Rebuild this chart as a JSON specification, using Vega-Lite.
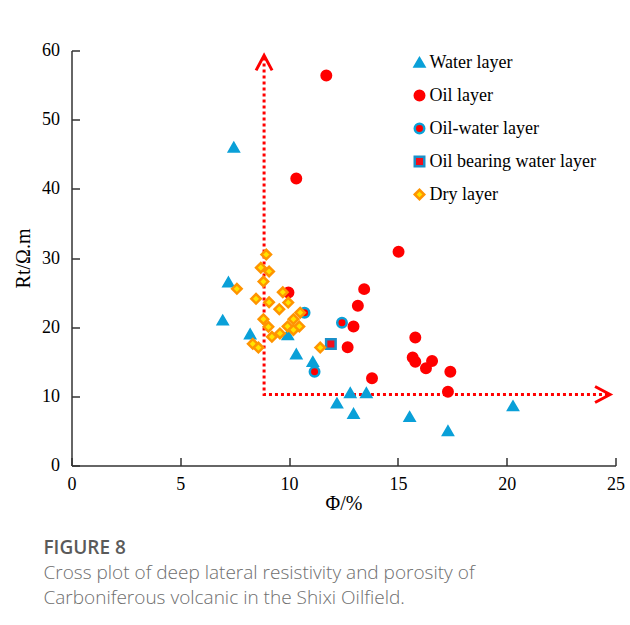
{
  "$schema": "https://vega.github.io/schema/vega-lite/v6.json",
  "width": 544,
  "height": 415,
  "autosize": {"type": "none"},
  "padding": {"left": 71.5, "top": 50.5, "right": 14, "bottom": 159.5},
  "background": "white",
  "title": {
    "text": "FIGURE 8",
    "subtitle": [
      "Cross plot of deep lateral resistivity and porosity of",
      "Carboniferous volcanic in the Shixi Oilfield."
    ],
    "orient": "bottom",
    "anchor": "start",
    "frame": "group",
    "dx": -28,
    "offset": 25,
    "font": "Open Sans",
    "fontSize": 19,
    "fontWeight": 600,
    "color": "#5a5a5a",
    "subtitleFont": "Open Sans",
    "subtitleFontSize": 19,
    "subtitleFontWeight": 300,
    "subtitleColor": "#6e6e6e",
    "subtitleLineHeight": 25,
    "subtitlePadding": 6
  },
  "datasets": {
    "samples": [
      {"layer": "Water layer", "phi": 7.46, "rt": 46.0},
      {"layer": "Water layer", "phi": 7.21, "rt": 26.5},
      {"layer": "Water layer", "phi": 6.95, "rt": 21.0},
      {"layer": "Water layer", "phi": 8.21, "rt": 19.0},
      {"layer": "Water layer", "phi": 9.94, "rt": 18.9},
      {"layer": "Water layer", "phi": 10.33, "rt": 16.1},
      {"layer": "Water layer", "phi": 11.09, "rt": 15.0},
      {"layer": "Water layer", "phi": 12.81, "rt": 10.5},
      {"layer": "Water layer", "phi": 13.55, "rt": 10.5},
      {"layer": "Water layer", "phi": 12.2, "rt": 9.0},
      {"layer": "Water layer", "phi": 12.96, "rt": 7.5},
      {"layer": "Water layer", "phi": 15.54, "rt": 7.05},
      {"layer": "Water layer", "phi": 17.3, "rt": 5.0},
      {"layer": "Water layer", "phi": 20.29, "rt": 8.6},
      {"layer": "Oil layer", "phi": 11.71, "rt": 56.4},
      {"layer": "Oil layer", "phi": 10.33, "rt": 41.5},
      {"layer": "Oil layer", "phi": 15.03, "rt": 30.9},
      {"layer": "Oil layer", "phi": 13.45, "rt": 25.5},
      {"layer": "Oil layer", "phi": 13.16, "rt": 23.1},
      {"layer": "Oil layer", "phi": 12.96, "rt": 20.1},
      {"layer": "Oil layer", "phi": 12.69, "rt": 17.1},
      {"layer": "Oil layer", "phi": 13.81, "rt": 12.6},
      {"layer": "Oil layer", "phi": 15.8, "rt": 18.5},
      {"layer": "Oil layer", "phi": 15.68, "rt": 15.6},
      {"layer": "Oil layer", "phi": 15.8, "rt": 15.0},
      {"layer": "Oil layer", "phi": 16.29, "rt": 14.05},
      {"layer": "Oil layer", "phi": 16.57, "rt": 15.1},
      {"layer": "Oil layer", "phi": 17.41, "rt": 13.55},
      {"layer": "Oil layer", "phi": 17.3, "rt": 10.65},
      {"layer": "Oil layer", "phi": 9.97, "rt": 25.0},
      {"layer": "Oil-water layer", "phi": 10.71, "rt": 22.1},
      {"layer": "Oil-water layer", "phi": 12.43, "rt": 20.65},
      {"layer": "Oil-water layer", "phi": 11.17, "rt": 13.55},
      {"layer": "Oil bearing water layer", "phi": 11.92, "rt": 17.55},
      {"layer": "Dry layer", "phi": 8.95, "rt": 30.5},
      {"layer": "Dry layer", "phi": 8.7, "rt": 28.6},
      {"layer": "Dry layer", "phi": 9.08, "rt": 28.05},
      {"layer": "Dry layer", "phi": 8.82, "rt": 26.6},
      {"layer": "Dry layer", "phi": 7.6, "rt": 25.55},
      {"layer": "Dry layer", "phi": 9.71, "rt": 25.05},
      {"layer": "Dry layer", "phi": 8.48, "rt": 24.1},
      {"layer": "Dry layer", "phi": 9.08, "rt": 23.6},
      {"layer": "Dry layer", "phi": 9.96, "rt": 23.55},
      {"layer": "Dry layer", "phi": 9.55, "rt": 22.6},
      {"layer": "Dry layer", "phi": 10.51, "rt": 22.1},
      {"layer": "Dry layer", "phi": 8.82, "rt": 21.15},
      {"layer": "Dry layer", "phi": 10.2, "rt": 21.15},
      {"layer": "Dry layer", "phi": 9.05, "rt": 20.05},
      {"layer": "Dry layer", "phi": 9.93, "rt": 20.1},
      {"layer": "Dry layer", "phi": 10.47, "rt": 20.1},
      {"layer": "Dry layer", "phi": 10.2, "rt": 19.6},
      {"layer": "Dry layer", "phi": 9.58, "rt": 19.1},
      {"layer": "Dry layer", "phi": 9.21, "rt": 18.6},
      {"layer": "Dry layer", "phi": 8.33, "rt": 17.6},
      {"layer": "Dry layer", "phi": 8.59, "rt": 17.05},
      {"layer": "Dry layer", "phi": 11.43, "rt": 17.05}
    ],
    "cutoff": [
      {"step": 1, "phi": 8.85, "rt": 59.0},
      {"step": 2, "phi": 8.85, "rt": 10.26},
      {"step": 3, "phi": 24.7, "rt": 10.26}
    ],
    "heads": [
      {"head": "up", "phi": 8.85, "rt": 59.3},
      {"head": "right", "phi": 24.75, "rt": 10.26}
    ]
  },
  "encoding": {
    "x": {
      "field": "phi",
      "type": "quantitative",
      "scale": {"domain": [0, 25], "nice": false, "zero": true},
      "axis": {
        "title": "Φ/%",
        "values": [0, 5, 10, 15, 20, 25],
        "labelPadding": 18,
        "titlePadding": 0
      }
    },
    "y": {
      "field": "rt",
      "type": "quantitative",
      "scale": {"domain": [0, 60], "nice": false},
      "axis": {
        "title": "Rt/Ω.m",
        "values": [0, 10, 20, 30, 40, 50, 60],
        "labelPadding": 20,
        "titlePadding": 8
      }
    }
  },
  "layer": [
    {
      "data": {"name": "cutoff"},
      "mark": {
        "type": "line",
        "color": "#ff0000",
        "strokeWidth": 3,
        "strokeDash": [3, 3],
        "clip": false
      },
      "encoding": {"order": {"field": "step", "type": "quantitative"}}
    },
    {
      "data": {"name": "heads"},
      "transform": [{"filter": "datum.head === 'right'"}],
      "mark": {
        "type": "point",
        "shape": "M-1.875,-1L0,0L-1.875,1",
        "size": 256,
        "filled": false,
        "stroke": "#ff0000",
        "strokeWidth": 3,
        "opacity": 1,
        "clip": false
      }
    },
    {
      "data": {"name": "heads"},
      "transform": [{"filter": "datum.head === 'up'"}],
      "mark": {
        "type": "point",
        "shape": "M-1.875,-1L0,0L-1.875,1",
        "angle": 270,
        "size": 256,
        "filled": false,
        "stroke": "#ff0000",
        "strokeWidth": 3,
        "opacity": 1,
        "clip": false
      }
    },
    {
      "data": {"name": "samples"},
      "mark": {
        "type": "point",
        "filled": true,
        "opacity": 1,
        "size": 90,
        "strokeWidth": 2.5
      },
      "encoding": {
        "shape": {
          "field": "layer",
          "type": "nominal",
          "scale": {
            "domain": ["Water layer", "Oil layer", "Oil-water layer", "Oil bearing water layer", "Dry layer"],
            "range": ["triangle-up", "circle", "circle", "square", "diamond"]
          },
          "legend": {
            "title": null,
            "orient": "none",
            "legendX": 339,
            "legendY": 3
          }
        },
        "fill": {
          "field": "layer",
          "type": "nominal",
          "scale": {
            "domain": ["Water layer", "Oil layer", "Oil-water layer", "Oil bearing water layer", "Dry layer"],
            "range": ["#0aa0d8", "#ff0000", "#ff0000", "#f0101c", "#ffe400"]
          },
          "legend": {
            "title": null,
            "orient": "none",
            "legendX": 339,
            "legendY": 3
          }
        },
        "stroke": {
          "field": "layer",
          "type": "nominal",
          "scale": {
            "domain": ["Water layer", "Oil layer", "Oil-water layer", "Oil bearing water layer", "Dry layer"],
            "range": ["#0aa0d8", "#ff0000", "#0aa0d8", "#1a8fc8", "#ff9400"]
          },
          "legend": {
            "title": null,
            "orient": "none",
            "legendX": 339,
            "legendY": 3
          }
        }
      }
    }
  ],
  "config": {
    "view": {"stroke": null},
    "axis": {
      "grid": false,
      "domainColor": "#333333",
      "domainWidth": 1.5,
      "tickColor": "#333333",
      "tickWidth": 1.5,
      "tickSize": -8,
      "labelFlush": false,
      "labelOverlap": false,
      "labelFont": "Liberation Serif",
      "labelFontSize": 18,
      "labelColor": "#000000",
      "titleFont": "Liberation Serif",
      "titleFontSize": 20,
      "titleFontWeight": "normal",
      "titleColor": "#000000"
    },
    "legend": {
      "labelFont": "Liberation Serif",
      "labelFontSize": 18,
      "labelColor": "#000000",
      "labelOffset": 1,
      "labelLimit": 400,
      "symbolSize": 90,
      "symbolStrokeWidth": 2.5,
      "symbolOpacity": 1,
      "rowPadding": 13,
      "padding": 0
    }
  }
}
